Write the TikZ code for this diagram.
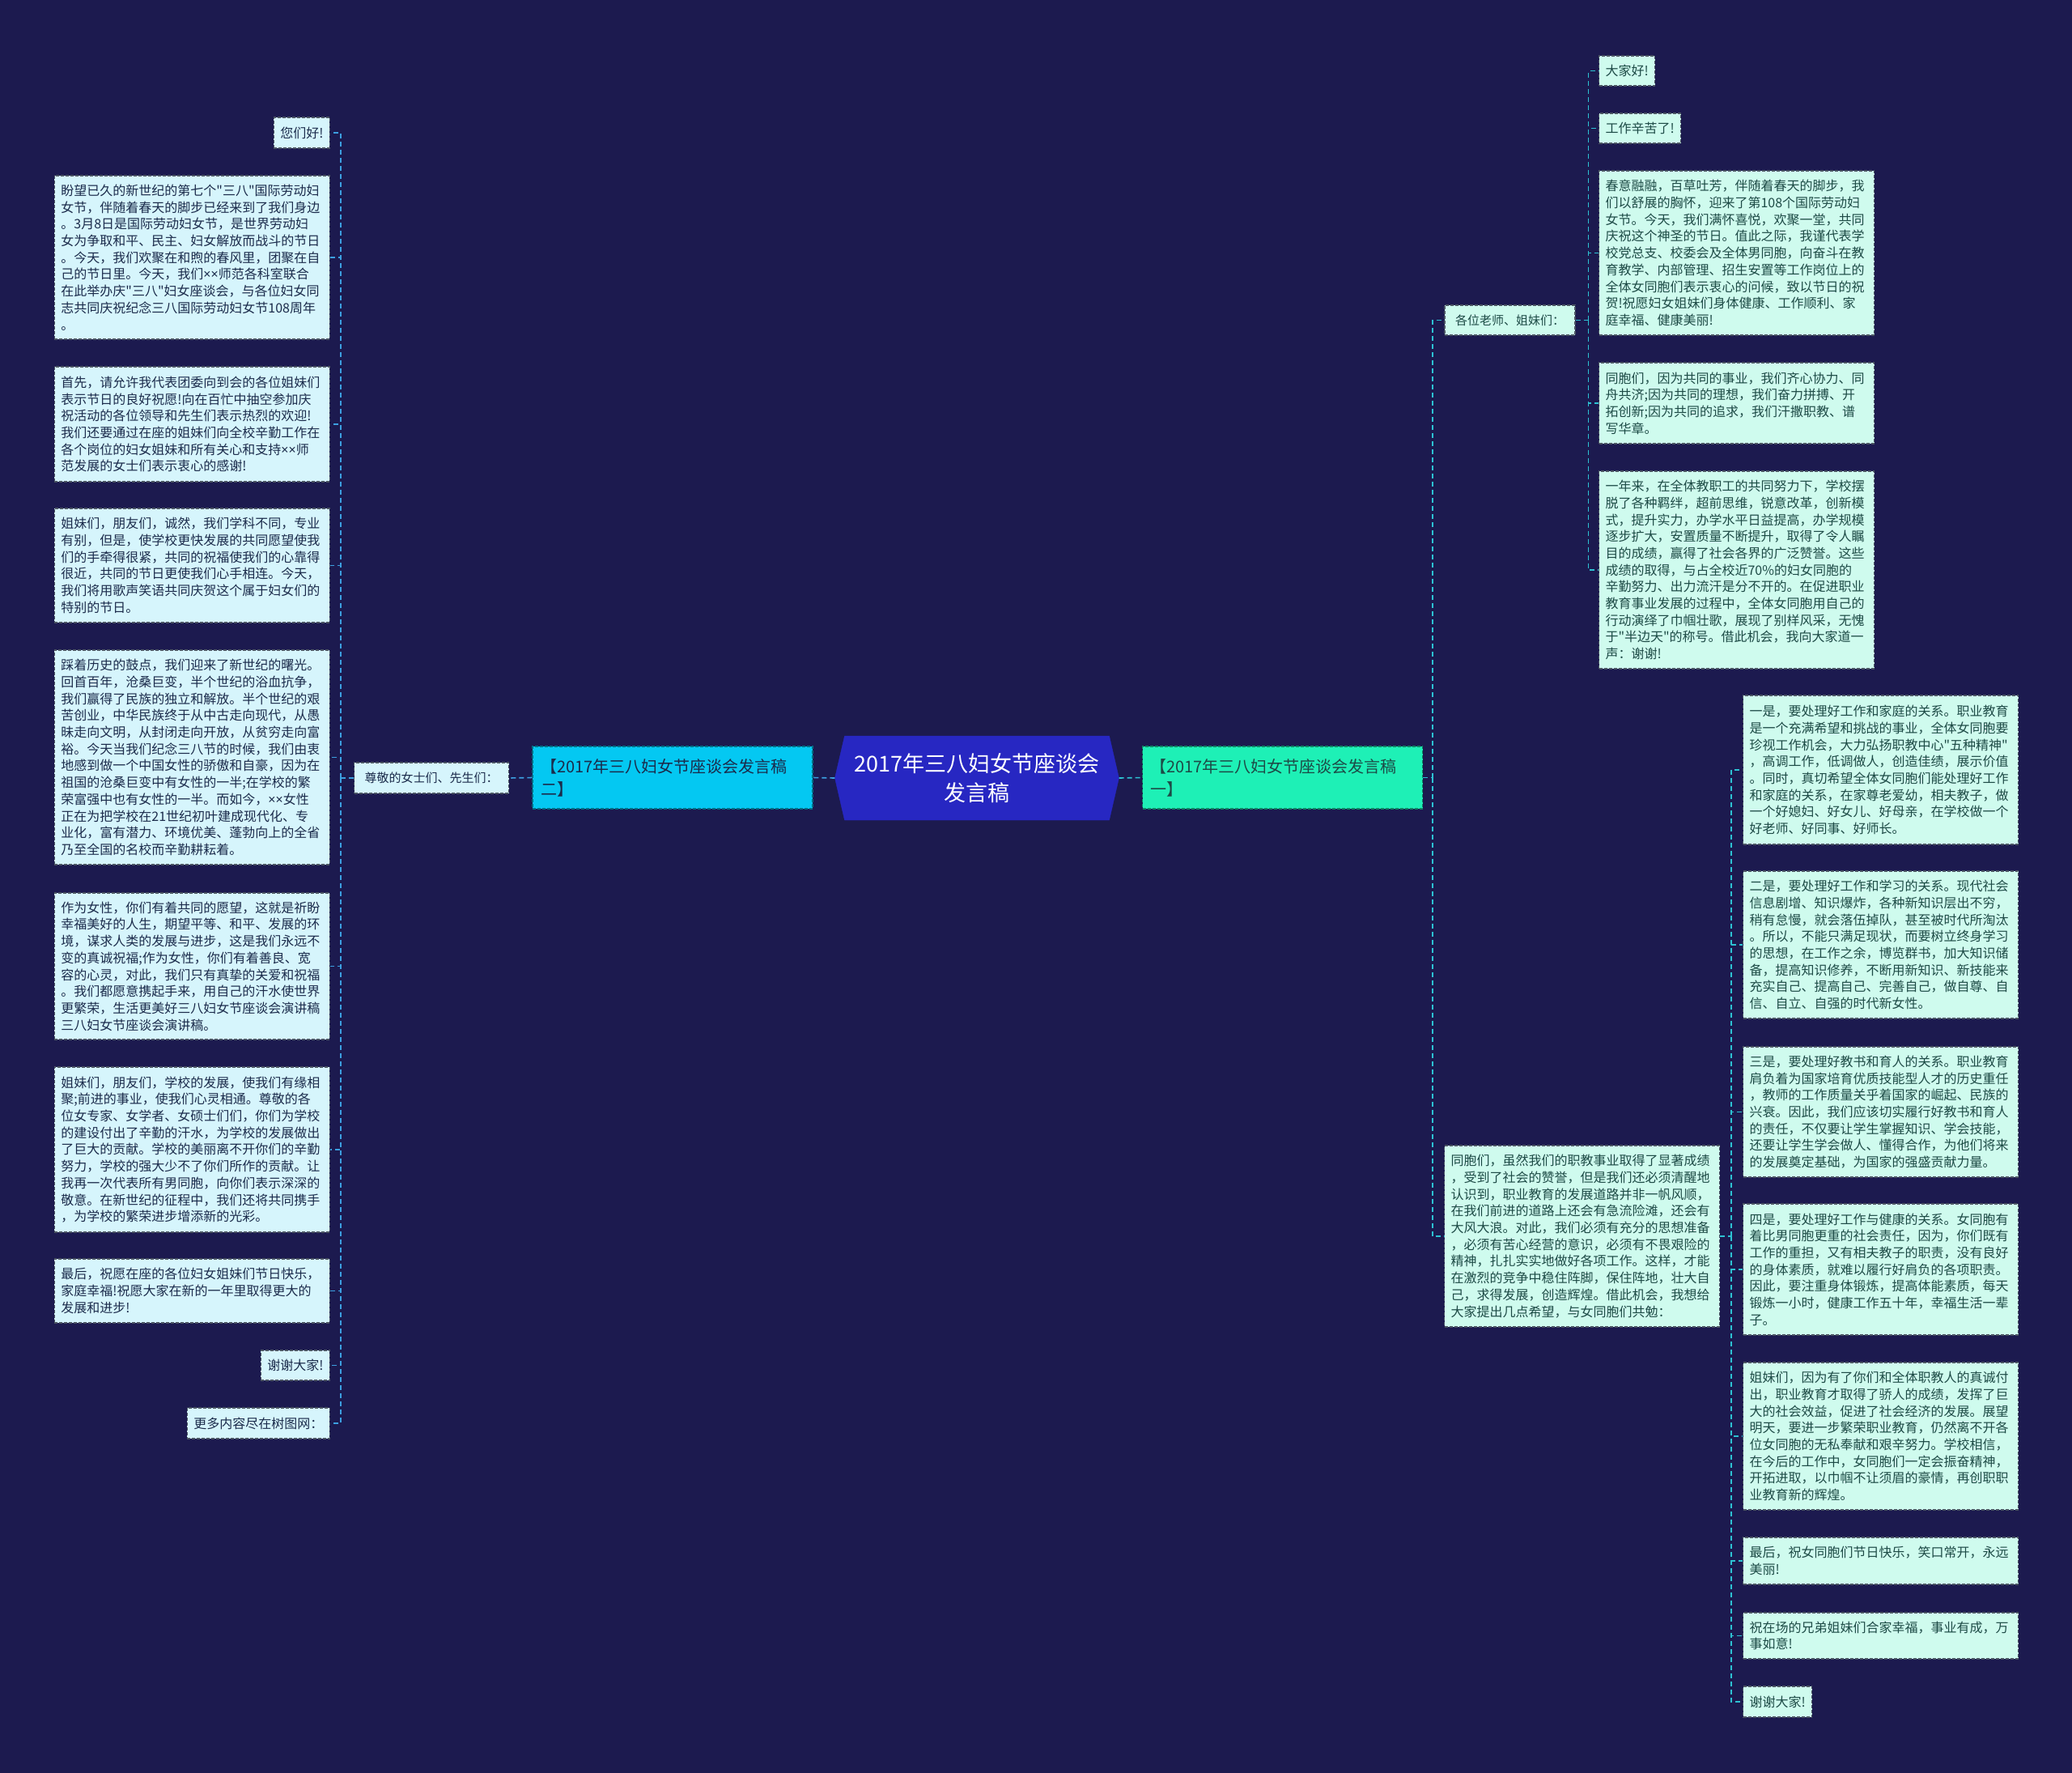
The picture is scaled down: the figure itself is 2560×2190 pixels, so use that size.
\documentclass[tikz,border=0pt]{standalone}
\usepackage{fontspec}
\newfontfamily\cjkfont{Noto Sans CJK SC}
\newfontfamily\latinfont{Noto Sans}
\newcommand\xmark{{\latinfont ××}}
\usetikzlibrary{shapes.symbols}
\definecolor{bgNavy}{HTML}{1C1A4F}
\definecolor{rootBlue}{HTML}{2727C2}
\definecolor{mainCyan}{HTML}{04C8F2}
\definecolor{mainMint}{HTML}{1EF0B6}
\definecolor{leafBlue}{HTML}{D6F5FC}
\definecolor{leafMint}{HTML}{CFFBEE}
\definecolor{leafEdge}{HTML}{4B5563}
\definecolor{inkBlue}{HTML}{1B2B4B}
\definecolor{inkTeal}{HTML}{1D4A46}
\definecolor{linkBlue}{HTML}{3C9FE0}
\definecolor{linkTeal}{HTML}{2DC2D3}

\begin{document}
\begin{tikzpicture}[x=1pt, y=-1pt,
    root/.style={signal, signal to=west and east, signal pointer angle=154,
                 fill=rootBlue, draw=rootBlue, text=white, align=center,
                 minimum width=351pt, minimum height=104pt, inner sep=0pt,
                 font=\cjkfont\fontsize{27}{36}\selectfont},
    main/.style={dash pattern=on 4pt off 2pt, line width=1.1pt, align=left,
                 text width=326pt, inner xsep=10pt, minimum height=77pt,
                 font=\cjkfont\fontsize{20}{28}\selectfont},
    leaf/.style={draw=leafEdge, dash pattern=on 4pt off 2pt, line width=1.1pt,
                 align=left, inner xsep=8pt, inner ysep=5pt,
                 font=\cjkfont\fontsize{16}{20.7}\selectfont},
    leafL/.style={leaf, fill=leafBlue, text=inkBlue, anchor=east},
    leafR/.style={leaf, fill=leafMint, text=inkTeal, anchor=west},
    para/.style={text width=324pt},
    tag/.style={inner xsep=13pt, font=\cjkfont\fontsize{15}{18}\selectfont},
    linkL/.style={draw=linkBlue, dash pattern=on 6pt off 4pt, line width=1.6pt},
    linkR/.style={draw=linkTeal, dash pattern=on 6pt off 4pt, line width=1.6pt}]
  \fill[bgNavy] (0,0) rectangle (2560,2190);
  \useasboundingbox (0,0) rectangle (2560,2190);

  % centre and the two halves
  \node[root] (root) at (1207,961) {2017年三八妇女节座谈会\\发言稿};
  \node[main, fill=mainCyan, draw=mainCyan!55!black, text=inkBlue] (left) at (831,960.5)
    {【2017年三八妇女节座谈会发言稿\\二】};
  \node[main, fill=mainMint, draw=mainMint!55!black, text=inkTeal] (right) at (1584.5,960.5)
    {【2017年三八妇女节座谈会发言稿\\一】};

  % left side
  \node[leafL, tag, anchor=center, minimum height=38pt] (zun) at (533,961) {尊敬的女士们、先生们：};
  \node[leafL, minimum height=38pt] (l1) at (408,164) {您们好!};
  \node[leafL, para, minimum height=202pt] (l2) at (408,318)
    {盼望已久的新世纪的第七个"三八"国际劳动妇\\
     女节，伴随着春天的脚步已经来到了我们身边\\
     。3月8日是国际劳动妇女节，是世界劳动妇\\
     女为争取和平、民主、妇女解放而战斗的节日\\
     。今天，我们欢聚在和煦的春风里，团聚在自\\
     己的节日里。今天，我们\xmark 师范各科室联合\\
     在此举办庆"三八"妇女座谈会，与各位妇女同\\
     志共同庆祝纪念三八国际劳动妇女节108周年\\
     。};
  \node[leafL, para, minimum height=142pt] (l3) at (408,524)
    {首先，请允许我代表团委向到会的各位姐妹们\\
     表示节日的良好祝愿!向在百忙中抽空参加庆\\
     祝活动的各位领导和先生们表示热烈的欢迎!\\
     我们还要通过在座的姐妹们向全校辛勤工作在\\
     各个岗位的妇女姐妹和所有关心和支持\xmark 师\\
     范发展的女士们表示衷心的感谢!};
  \node[leafL, para, minimum height=141pt] (l4) at (408,698.5)
    {姐妹们，朋友们，诚然，我们学科不同，专业\\
     有别，但是，使学校更快发展的共同愿望使我\\
     们的手牵得很紧，共同的祝福使我们的心靠得\\
     很近，共同的节日更使我们心手相连。今天，\\
     我们将用歌声笑语共同庆贺这个属于妇女们的\\
     特别的节日。};
  \node[leafL, para, minimum height=265pt] (l5) at (408,935.5)
    {踩着历史的鼓点，我们迎来了新世纪的曙光。\\
     回首百年，沧桑巨变，半个世纪的浴血抗争，\\
     我们赢得了民族的独立和解放。半个世纪的艰\\
     苦创业，中华民族终于从中古走向现代，从愚\\
     昧走向文明，从封闭走向开放，从贫穷走向富\\
     裕。今天当我们纪念三八节的时候，我们由衷\\
     地感到做一个中国女性的骄傲和自豪，因为在\\
     祖国的沧桑巨变中有女性的一半;在学校的繁\\
     荣富强中也有女性的一半。而如今，\xmark 女性\\
     正在为把学校在21世纪初叶建成现代化、专\\
     业化，富有潜力、环境优美、蓬勃向上的全省\\
     乃至全国的名校而辛勤耕耘着。};
  \node[leafL, para, minimum height=181pt] (l6) at (408,1193.5)
    {作为女性，你们有着共同的愿望，这就是祈盼\\
     幸福美好的人生，期望平等、和平、发展的环\\
     境，谋求人类的发展与进步，这是我们永远不\\
     变的真诚祝福;作为女性，你们有着善良、宽\\
     容的心灵，对此，我们只有真挚的关爱和祝福\\
     。我们都愿意携起手来，用自己的汗水使世界\\
     更繁荣，生活更美好三八妇女节座谈会演讲稿\\
     三八妇女节座谈会演讲稿。};
  \node[leafL, para, minimum height=204pt] (l7) at (408,1420)
    {姐妹们，朋友们，学校的发展，使我们有缘相\\
     聚;前进的事业，使我们心灵相通。尊敬的各\\
     位女专家、女学者、女硕士们们，你们为学校\\
     的建设付出了辛勤的汗水，为学校的发展做出\\
     了巨大的贡献。学校的美丽离不开你们的辛勤\\
     努力，学校的强大少不了你们所作的贡献。让\\
     我再一次代表所有男同胞，向你们表示深深的\\
     敬意。在新世纪的征程中，我们还将共同携手\\
     ，为学校的繁荣进步增添新的光彩。};
  \node[leafL, para, minimum height=79pt] (l8) at (408,1594.5)
    {最后，祝愿在座的各位妇女姐妹们节日快乐，\\
     家庭幸福!祝愿大家在新的一年里取得更大的\\
     发展和进步!};
  \node[leafL, minimum height=37pt] (l9) at (408,1686.5) {谢谢大家!};
  \node[leafL, minimum height=38pt] (l10) at (408,1758) {更多内容尽在树图网：};

  % right side
  \node[leafR, tag, anchor=center, minimum height=37pt] (g) at (1865.5,395.5) {各位老师、姐妹们：};
  \node[leafR, minimum height=37pt] (r1) at (1975,87.5) {大家好!};
  \node[leafR, minimum height=37pt] (r2) at (1975,158.5) {工作辛苦了!};
  \node[leafR, para, minimum height=203pt] (r3) at (1975,312.5)
    {春意融融，百草吐芳，伴随着春天的脚步，我\\
     们以舒展的胸怀，迎来了第108个国际劳动妇\\
     女节。今天，我们满怀喜悦，欢聚一堂，共同\\
     庆祝这个神圣的节日。值此之际，我谨代表学\\
     校党总支、校委会及全体男同胞，向奋斗在教\\
     育教学、内部管理、招生安置等工作岗位上的\\
     全体女同胞们表示衷心的问候，致以节日的祝\\
     贺!祝愿妇女姐妹们身体健康、工作顺利、家\\
     庭幸福、健康美丽!};
  \node[leafR, para, minimum height=100pt] (r4) at (1975,498)
    {同胞们，因为共同的事业，我们齐心协力、同\\
     舟共济;因为共同的理想，我们奋力拼搏、开\\
     拓创新;因为共同的追求，我们汗撒职教、谱\\
     写华章。};
  \node[leafR, para, minimum height=244pt] (r5) at (1975,704)
    {一年来，在全体教职工的共同努力下，学校摆\\
     脱了各种羁绊，超前思维，锐意改革，创新模\\
     式，提升实力，办学水平日益提高，办学规模\\
     逐步扩大，安置质量不断提升，取得了令人瞩\\
     目的成绩，赢得了社会各界的广泛赞誉。这些\\
     成绩的取得，与占全校近70\%的妇女同胞的\\
     辛勤努力、出力流汗是分不开的。在促进职业\\
     教育事业发展的过程中，全体女同胞用自己的\\
     行动演绎了巾帼壮歌，展现了别样风采，无愧\\
     于"半边天"的称号。借此机会，我向大家道一\\
     声：谢谢!};
  \node[leafR, para, minimum height=224pt] (t) at (1784,1527)
    {同胞们，虽然我们的职教事业取得了显著成绩\\
     ，受到了社会的赞誉，但是我们还必须清醒地\\
     认识到，职业教育的发展道路并非一帆风顺，\\
     在我们前进的道路上还会有急流险滩，还会有\\
     大风大浪。对此，我们必须有充分的思想准备\\
     ，必须有苦心经营的意识，必须有不畏艰险的\\
     精神，扎扎实实地做好各项工作。这样，才能\\
     在激烈的竞争中稳住阵脚，保住阵地，壮大自\\
     己，求得发展，创造辉煌。借此机会，我想给\\
     大家提出几点希望，与女同胞们共勉：};
  \node[leafR, para, minimum height=184pt] (s1) at (2153,951)
    {一是，要处理好工作和家庭的关系。职业教育\\
     是一个充满希望和挑战的事业，全体女同胞要\\
     珍视工作机会，大力弘扬职教中心"五种精神"\\
     ，高调工作，低调做人，创造佳绩，展示价值\\
     。同时，真切希望全体女同胞们能处理好工作\\
     和家庭的关系，在家尊老爱幼，相夫教子，做\\
     一个好媳妇、好女儿、好母亲，在学校做一个\\
     好老师、好同事、好师长。};
  \node[leafR, para, minimum height=182pt] (s2) at (2153,1167)
    {二是，要处理好工作和学习的关系。现代社会\\
     信息剧增、知识爆炸，各种新知识层出不穷，\\
     稍有怠慢，就会落伍掉队，甚至被时代所淘汰\\
     。所以，不能只满足现状，而要树立终身学习\\
     的思想，在工作之余，博览群书，加大知识储\\
     备，提高知识修养，不断用新知识、新技能来\\
     充实自己、提高自己、完善自己，做自尊、自\\
     信、自立、自强的时代新女性。};
  \node[leafR, para, minimum height=161pt] (s3) at (2153,1373.5)
    {三是，要处理好教书和育人的关系。职业教育\\
     肩负着为国家培育优质技能型人才的历史重任\\
     ，教师的工作质量关乎着国家的崛起、民族的\\
     兴衰。因此，我们应该切实履行好教书和育人\\
     的责任，不仅要让学生掌握知识、学会技能，\\
     还要让学生学会做人、懂得合作，为他们将来\\
     的发展奠定基础，为国家的强盛贡献力量。};
  \node[leafR, para, minimum height=162pt] (s4) at (2153,1568)
    {四是，要处理好工作与健康的关系。女同胞有\\
     着比男同胞更重的社会责任，因为，你们既有\\
     工作的重担，又有相夫教子的职责，没有良好\\
     的身体素质，就难以履行好肩负的各项职责。\\
     因此，要注重身体锻炼，提高体能素质，每天\\
     锻炼一小时，健康工作五十年，幸福生活一辈\\
     子。};
  \node[leafR, para, minimum height=182pt] (s5) at (2153,1774)
    {姐妹们，因为有了你们和全体职教人的真诚付\\
     出，职业教育才取得了骄人的成绩，发挥了巨\\
     大的社会效益，促进了社会经济的发展。展望\\
     明天，要进一步繁荣职业教育，仍然离不开各\\
     位女同胞的无私奉献和艰辛努力。学校相信，\\
     在今后的工作中，女同胞们一定会振奋精神，\\
     开拓进取，以巾帼不让须眉的豪情，再创职职\\
     业教育新的辉煌。};
  \node[leafR, para, minimum height=58pt] (s6) at (2153,1928)
    {最后，祝女同胞们节日快乐，笑口常开，永远\\
     美丽!};
  \node[leafR, para, minimum height=57pt] (s7) at (2153,2020.5)
    {祝在场的兄弟姐妹们合家幸福，事业有成，万\\
     事如意!};
  \node[leafR, minimum height=38pt] (s8) at (2153,2102) {谢谢大家!};

  % connectors
  \draw[linkL] (root.west) -- (left.west -| left.east);
  \draw[linkL] (left.west) -- (zun.east);
  \draw[linkL] (zun.west) -- ++(-16,0) coordinate (lb);
  \foreach \i in {1,...,10} \draw[linkL] (lb) |- (l\i.east);
  \draw[linkR] (root.east) -- (right.west);
  \draw[linkR] (right.east) -- ++(12,0) coordinate (rb);
  \draw[linkR] (rb) |- (g.west);
  \draw[linkR] (rb) |- (t.west);
  \draw[linkR] (g.east) -- ++(16,0) coordinate (gb);
  \foreach \i in {1,...,5} \draw[linkR] (gb) |- (r\i.west);
  \draw[linkR] (t.east) -- ++(14,0) coordinate (tb);
  \foreach \i in {1,...,8} \draw[linkR] (tb) |- (s\i.west);
\end{tikzpicture}
\end{document}
